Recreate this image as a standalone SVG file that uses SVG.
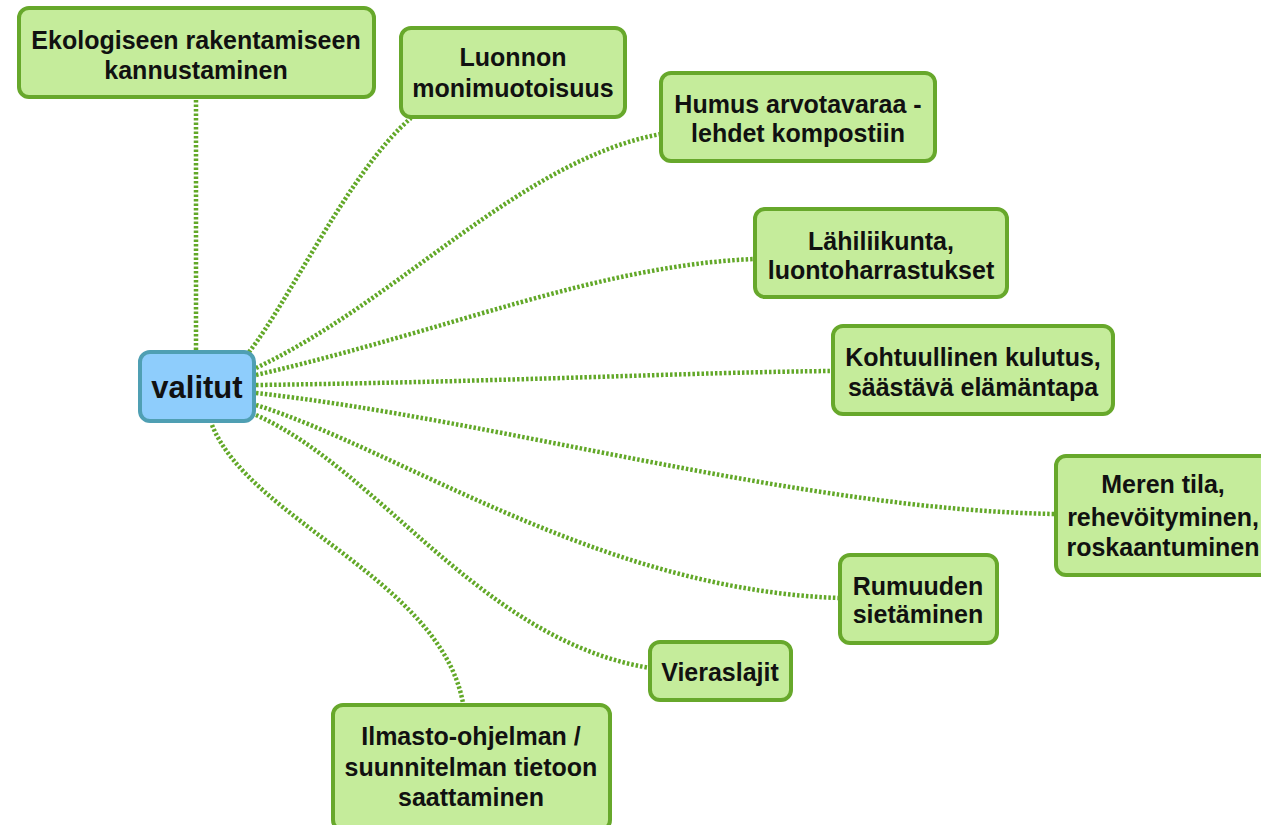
<svg xmlns="http://www.w3.org/2000/svg" width="1261" height="825" viewBox="0 0 1261 825">
<style>
.n rect{fill:#c5ec9b;stroke:#67a82b;stroke-width:4}
.c rect{fill:#8ecdfc;stroke:#4f9fb3;stroke-width:4}
text{font-family:"Liberation Sans",Arial,sans-serif;font-weight:bold;font-size:25px;fill:#111;text-anchor:middle}
.e path{fill:none;stroke:#62a828;stroke-width:4.5;stroke-dasharray:2.5 2}
</style>
<rect width="1261" height="825" fill="#fff"/>
<g class="e" id="connectors">
<path d="M196,350 L196,99"/>
<path d="M249,352 C290,300 350,170 411,118"/>
<path d="M256,368 C400,300 520,160 661,134"/>
<path d="M256,375 C450,330 600,265 755,259"/>
<path d="M256,385 C500,382 700,372 833,371"/>
<path d="M256,393 C500,420 800,510 1056,514"/>
<path d="M256,405 C400,450 600,590 840,598"/>
<path d="M256,415 C380,470 480,640 650,668"/>
<path d="M212,425 C250,520 440,580 463,703"/>
</g>
<g id="center" class="c"><rect x="140" y="352" width="114" height="69" rx="10"/><text x="197" y="398" style="font-size:31px">valitut</text></g>
<g id="n1" class="n"><rect x="19" y="8" width="355" height="89" rx="10"/><text x="196" y="49">Ekologiseen rakentamiseen</text><text x="196" y="79">kannustaminen</text></g>
<g id="n2" class="n"><rect x="401" y="28" width="224" height="89" rx="10"/><text x="513" y="66">Luonnon</text><text x="513" y="97">monimuotoisuus</text></g>
<g id="n3" class="n"><rect x="661" y="73" width="274" height="88" rx="10"/><text x="798" y="113">Humus arvotavaraa -</text><text x="798" y="142">lehdet kompostiin</text></g>
<g id="n4" class="n"><rect x="755" y="209" width="252" height="88" rx="10"/><text x="881" y="250">Lähiliikunta,</text><text x="881" y="279">luontoharrastukset</text></g>
<g id="n5" class="n"><rect x="833" y="326" width="280" height="88" rx="10"/><text x="973" y="366">Kohtuullinen kulutus,</text><text x="973" y="396">säästävä elämäntapa</text></g>
<g id="n6" class="n"><rect x="1056" y="456" width="230" height="119" rx="10"/><text x="1163" y="493">Meren tila,</text><text x="1163" y="526">rehevöityminen,</text><text x="1163" y="556">roskaantuminen</text></g>
<g id="n7" class="n"><rect x="840" y="555" width="157" height="88" rx="10"/><text x="918" y="595">Rumuuden</text><text x="918" y="623">sietäminen</text></g>
<g id="n8" class="n"><rect x="650" y="642" width="141" height="58" rx="10"/><text x="720" y="681">Vieraslajit</text></g>
<g id="n9" class="n"><rect x="333" y="705" width="277" height="125" rx="10"/><text x="471" y="745">Ilmasto-ohjelman /</text><text x="471" y="776">suunnitelman tietoon</text><text x="471" y="806">saattaminen</text></g>
</svg>
